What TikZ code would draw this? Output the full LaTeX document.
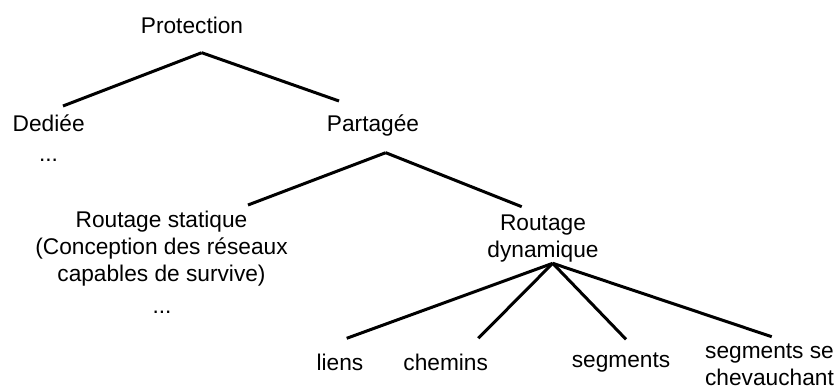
\documentclass[tikz,border=0pt]{standalone}
\usepackage{fontspec}
\setmainfont{Liberation Sans}

\begin{document}
\begin{tikzpicture}[x=1pt, y=-1pt,
        every node/.style={align=center, anchor=base, inner sep=0pt,
            font=\fontsize{22.7}{27}\selectfont},
        branch/.style={line width=3pt}]
        \useasboundingbox (0,0) rectangle (837,390);
        % racine et premier niveau
        \node (prot) at (192,34) {Protection};
        \node (ded) at (48.7,132) {Dediée};
        \node (deddots) at (48.5,161.5) {...};
        \node (part) at (373,132) {Partagée};
        % deuxieme niveau (base = derniere ligne)
        \node (stat) at (161.5,281.7) {Routage statique\\(Conception des réseaux\\capables de survive)};
        \node (statdots) at (162,313) {...};
        \node (dyn) at (543,257) {Routage\\dynamique};
        % feuilles
        \node (liens) at (340,370) {liens};
        \node (chem) at (445.7,370) {chemins};
        \node (seg) at (621,367) {segments};
        \node (segse) at (769.5,385) {segments se\\chevauchant};
        % branches
        \draw[branch] ([xshift=9.7pt,yshift=-18.7pt]prot.base) -- ([xshift=14.3pt,yshift=26pt]ded.base);
        \draw[branch] ([xshift=9.7pt,yshift=-18.7pt]prot.base) -- ([xshift=-34pt,yshift=31pt]part.base);
        \draw[branch] ([xshift=12.7pt,yshift=-20.7pt]part.base) -- ([xshift=86.5pt,yshift=76.7pt]stat.base);
        \draw[branch] ([xshift=12.7pt,yshift=-20.7pt]part.base) -- ([xshift=-21.3pt,yshift=50.3pt]dyn.base);
        \draw[branch] ([xshift=9.7pt,yshift=-6.3pt]dyn.base) -- ([xshift=6.7pt,yshift=31.7pt]liens.base);
        \draw[branch] ([xshift=9.7pt,yshift=-6.3pt]dyn.base) -- ([xshift=32.6pt,yshift=31.7pt]chem.base);
        \draw[branch] ([xshift=9.7pt,yshift=-6.3pt]dyn.base) -- ([xshift=5pt,yshift=27.7pt]seg.base);
        \draw[branch] ([xshift=9.7pt,yshift=-6.3pt]dyn.base) -- ([xshift=2.2pt,yshift=48.3pt]segse.base);
\end{tikzpicture}
\end{document}
